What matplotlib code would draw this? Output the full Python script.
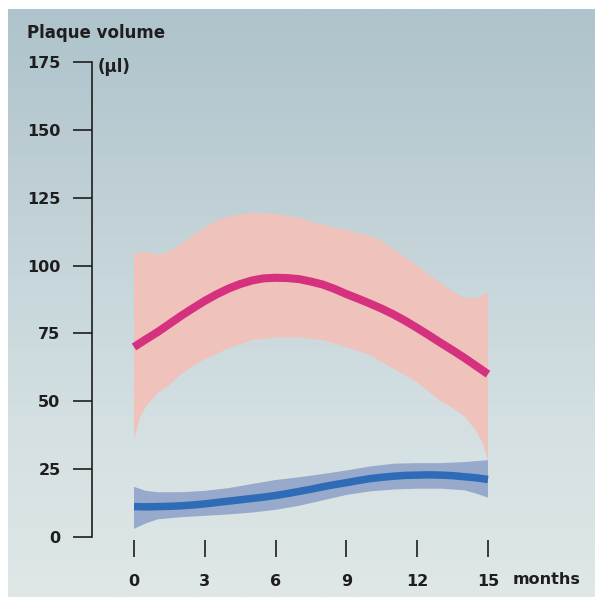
import numpy as np
import matplotlib
matplotlib.use("Agg")
import matplotlib.pyplot as plt
from matplotlib.colors import LinearSegmentedColormap

# ---- data ----
x_ticks = [0, 3, 6, 9, 12, 15]
y_ticks = [0, 25, 50, 75, 100, 125, 150, 175]

pink_line_x = [0, 0.5, 1, 1.5, 2, 2.5, 3, 3.5, 4, 4.5, 5, 5.5, 6, 6.5, 7, 7.5,
               8, 8.5, 9, 9.5, 10, 10.5, 11, 11.5, 12, 12.5, 13, 13.5, 14, 14.5, 15]
pink_line_y = [70, 72.8, 75.5, 78.5, 81.5, 84.3, 87, 89.4, 91.5, 93.2, 94.5, 95.3, 95.5,
               95.4, 95, 94.1, 93, 91.4, 89.5, 87.8, 86, 84.1, 82, 79.6, 77, 74.3,
               71.5, 68.8, 66, 63, 60]

pink_up_x = [0, 0.5, 1, 1.5, 2, 2.5, 3, 3.5, 4, 5, 6, 7, 8, 9, 10, 10.5, 11, 12, 13, 13.5, 14, 14.5, 15]
pink_up_y = [104.5, 105, 104, 105, 108, 111, 114, 116.5, 118, 119.5, 119, 117.5, 115, 113,
             111, 109, 106, 100, 93.5, 90.5, 88, 88, 90]

pink_lo_x = [0, 0.25, 0.5, 0.8, 1, 1.5, 2, 2.5, 3, 4, 5, 6, 7, 8, 9, 10, 11, 12, 13, 13.5,
             14, 14.5, 14.8, 15]
pink_lo_y = [36, 44, 48, 51, 53, 56, 60, 63, 65.5, 69.5, 72.5, 73.5, 73.5, 72.5, 70, 67, 62,
             57, 50, 47.5, 44.5, 39, 34, 28]

blue_line_x = [0, 0.5, 1, 1.5, 2, 2.5, 3, 3.5, 4, 4.5, 5, 5.5, 6, 6.5, 7, 7.5,
               8, 8.5, 9, 9.5, 10, 10.5, 11, 11.5, 12, 12.5, 13, 13.5, 14, 14.5, 15]
blue_line_y = [11.2, 11.1, 11.2, 11.3, 11.5, 11.8, 12.2, 12.7, 13.2, 13.7, 14.2, 14.7, 15.3,
               16, 16.8, 17.6, 18.5, 19.3, 20, 20.8, 21.5, 22, 22.4, 22.7, 22.8, 22.9,
               22.8, 22.6, 22.2, 21.8, 21.2]

blue_up_x = [0, 0.5, 1, 2, 3, 4, 5, 6, 7, 8, 9, 10, 11, 12, 13, 14, 15]
blue_up_y = [18.5, 17, 16.5, 16.5, 17, 18, 19.5, 21, 22, 23.2, 24.5, 26, 27, 27.2, 27.2, 27.6, 28.3]

blue_lo_x = [0, 0.5, 1, 2, 3, 4, 5, 6, 7, 8, 9, 10, 11, 12, 13, 14, 14.5, 15]
blue_lo_y = [3, 5, 6.5, 7.3, 7.8, 8.3, 9, 10, 11.5, 13.5, 15.5, 16.8, 17.5, 17.8, 17.8, 17.2, 16, 14.5]

# ---- figure ----
W, H = 595, 605
fig = plt.figure(figsize=(W / 100, H / 100), dpi=100)
fig.patch.set_facecolor("white")

# background gradient panel
bg = fig.add_axes([8 / W, 8 / H, (W - 8) / W, (597 - 9) / H])
bg.set_axis_off()
cmap = LinearSegmentedColormap.from_list(
    "bg", ["#aec3cb", "#bccdd3", "#c9d8dc", "#d6e1e3", "#dfe7e7"])
grad = np.linspace(0, 1, 256).reshape(-1, 1)
bg.imshow(grad, aspect="auto", cmap=cmap, extent=[0, 1, 0, 1], origin="upper")

ax = fig.add_axes([134 / W, 1 - 537 / H, (488 - 134) / W, (537 - 62) / H])
ax.patch.set_alpha(0)
ax.set_xlim(0, 15)
ax.set_ylim(0, 175)

# bands
ax.fill(pink_up_x + pink_lo_x[::-1], pink_up_y + pink_lo_y[::-1],
        color="#efc3bb", lw=0, zorder=1, clip_on=False)
ax.fill(blue_up_x + blue_lo_x[::-1], blue_up_y + blue_lo_y[::-1],
        color="#98aacb", lw=0, zorder=1, clip_on=False)
ax.plot(pink_line_x, pink_line_y, color="#d6317f", lw=5.8,
        solid_capstyle="butt", solid_joinstyle="round", zorder=3, clip_on=False)
ax.plot(blue_line_x, blue_line_y, color="#2f6cb8", lw=5.4,
        solid_capstyle="butt", solid_joinstyle="round", zorder=3, clip_on=False)

dark = "#1e1e1e"
for s in ["top", "right"]:
    ax.spines[s].set_visible(False)
ax.spines["bottom"].set_visible(False)
ax.spines["bottom"].set_position(("outward", 2.2))
ax.spines["left"].set_position(("outward", 30.2))
ax.spines["left"].set_bounds(0, 175)
ax.spines["left"].set_color(dark)
ax.spines["left"].set_linewidth(1.2)

font = dict(family="DejaVu Sans", weight="bold", color=dark)
ax.set_yticks(y_ticks)
ax.set_yticklabels([str(v) for v in y_ticks], fontsize=11.5, **font)
ax.set_xticks(x_ticks)
ax.set_xticklabels([str(v) for v in x_ticks], fontsize=11.5, **font)
ax.tick_params(axis="y", direction="out", length=13.7, width=1.2, color=dark, pad=9)
ax.tick_params(axis="x", direction="out", length=12.2, width=1.2, color=dark, pad=12)

fig.text(27 / W, 1 - 33 / H, "Plaque volume", fontsize=12, ha="left", va="center", **font)
fig.text(98 / W, 1 - 67 / H, "(\u03bcl)", fontsize=12, ha="left", va="center", **font)
fig.text(513 / W, 1 - 580 / H, "months", fontsize=11.5, ha="left", va="center", **font)

fig.savefig("out.png", dpi=100, facecolor="white")
